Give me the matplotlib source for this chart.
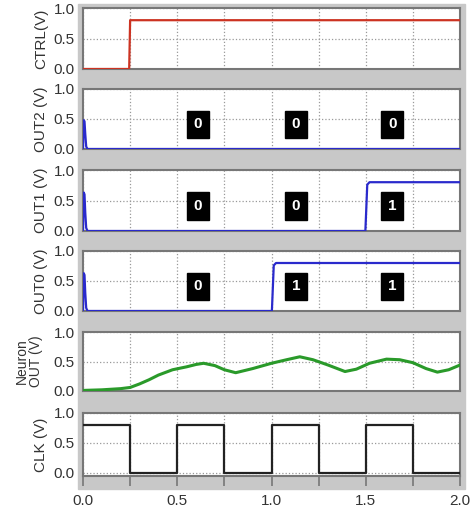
import numpy as np
import matplotlib.pyplot as plt
from matplotlib.patches import Rectangle

plt.rcParams['font.family'] = ['Liberation Sans', 'DejaVu Sans']

# trazas (tiempo, voltaje)
ctrl_t = [0.0, 0.245, 0.25, 2.0]
ctrl_v = [0.0, 0.0, 0.8, 0.8]

out2_t = [0.0, 0.004, 0.008, 0.012, 0.017, 0.024, 2.0]
out2_v = [0.0, 0.48, 0.46, 0.25, 0.04, 0.0, 0.0]

out1_t = [0.0, 0.004, 0.008, 0.012, 0.017, 0.024, 1.498, 1.508, 1.52, 2.0]
out1_v = [0.0, 0.63, 0.6, 0.3, 0.05, 0.0, 0.0, 0.76, 0.8, 0.8]

out0_t = [0.0, 0.004, 0.008, 0.012, 0.017, 0.024, 1.002, 1.012, 1.024, 2.0]
out0_v = [0.0, 0.63, 0.6, 0.3, 0.05, 0.0, 0.0, 0.76, 0.8, 0.8]

neuron_t = [0.0, 0.1, 0.2, 0.25, 0.3, 0.35, 0.4, 0.475, 0.55, 0.6, 0.64, 0.7,
            0.75, 0.81, 0.9, 1.0, 1.08, 1.15, 1.22, 1.3, 1.39, 1.45, 1.52,
            1.61, 1.68, 1.75, 1.82, 1.88, 1.94, 2.0]
neuron_v = [0.01, 0.02, 0.04, 0.06, 0.12, 0.19, 0.27, 0.36, 0.41, 0.45, 0.47, 0.43,
            0.36, 0.31, 0.38, 0.47, 0.53, 0.58, 0.53, 0.44, 0.33, 0.37, 0.47,
            0.54, 0.53, 0.48, 0.38, 0.32, 0.36, 0.44]

clk_t = [0.0, 0.25, 0.25, 0.5, 0.5, 0.75, 0.75, 1.0, 1.0, 1.25, 1.25, 1.5, 1.5, 1.75, 1.75, 2.0]
clk_v = [0.8, 0.8, 0.0, 0.0, 0.8, 0.8, 0.0, 0.0, 0.8, 0.8, 0.0, 0.0, 0.8, 0.8, 0.0, 0.0]

# bits escritos en las cajas negras
bit_t = [0.61, 1.13, 1.64]
out2_bits = ['0', '0', '0']
out1_bits = ['0', '0', '1']
out0_bits = ['0', '1', '1']

W, H = 473, 512
fig = plt.figure(figsize=(W / 100, H / 100), dpi=100)
fig.patches.append(Rectangle((78 / W, 1 - 489 / H), (465 - 78) / W, (489 - 4) / H,
                             transform=fig.transFigure, color='#c8c8c8', zorder=-5))

# (arriba, abajo) en pixeles
panels = [
    (8, 69, ctrl_t, ctrl_v, '#cc3322', 1.6, 'CTRL(V)', None),
    (89, 149, out2_t, out2_v, '#2a2acc', 1.6, 'OUT2 (V)', out2_bits),
    (170, 231, out1_t, out1_v, '#2a2acc', 1.6, 'OUT1 (V)', out1_bits),
    (251, 311, out0_t, out0_v, '#2a2acc', 1.6, 'OUT0 (V)', out0_bits),
    (332, 391, neuron_t, neuron_v, '#2a9a2a', 2.2, 'Neuron\nOUT (V)', None),
    (413, 476, clk_t, clk_v, '#222222', 1.6, 'CLK (V)', None),
]

fs = 11
x0, x1 = 83, 460
for i, (top, bot, t, v, col, lw, lab, bits) in enumerate(panels):
    ax = fig.add_axes([x0 / W, 1 - bot / H, (x1 - x0) / W, (bot - top) / H])
    ax.plot(t, v, color=col, lw=lw, zorder=3)
    ax.set_xlim(0, 2)
    last = i == len(panels) - 1
    ax.set_ylim(-0.05 if last else 0, 1.0)
    ax.set_yticks([0, 0.5, 1.0])
    ax.set_yticklabels(['0.0', '0.5', '1.0'])
    ax.set_xticks(np.arange(0, 2.01, 0.25))
    ax.grid(True, ls=':', color='#999999', lw=0.9)
    ax.tick_params(axis='y', length=0, pad=6, labelsize=fs, labelcolor='#333333')
    for s in ax.spines.values():
        s.set_color('#777777')
        s.set_linewidth(1.5)
    if last:
        ax.tick_params(axis='x', length=7, width=1.2, color='#777777', direction='out',
                       labelsize=fs, labelcolor='#333333', pad=6)
        ax.set_xticklabels(['0.0', '', '0.5', '', '1.0', '', '1.5', '', '2.0'])
    else:
        ax.tick_params(axis='x', length=0, labelbottom=False)
    ax.set_ylabel(lab, fontsize=fs if '\n' not in lab else 10, color='#333333', linespacing=1.0)
    ax.yaxis.set_label_coords(-0.106 if '\n' in lab else -0.093, 0.5)
    if bits:
        for bt, b in zip(bit_t, bits):
            ax.text(bt, 0.41, b, color='white', fontsize=fs, fontweight='bold',
                    ha='center', va='center', zorder=5,
                    bbox=dict(boxstyle='square,pad=0.45', fc='black', ec='black'))

fig.savefig('out.png', dpi=100)
